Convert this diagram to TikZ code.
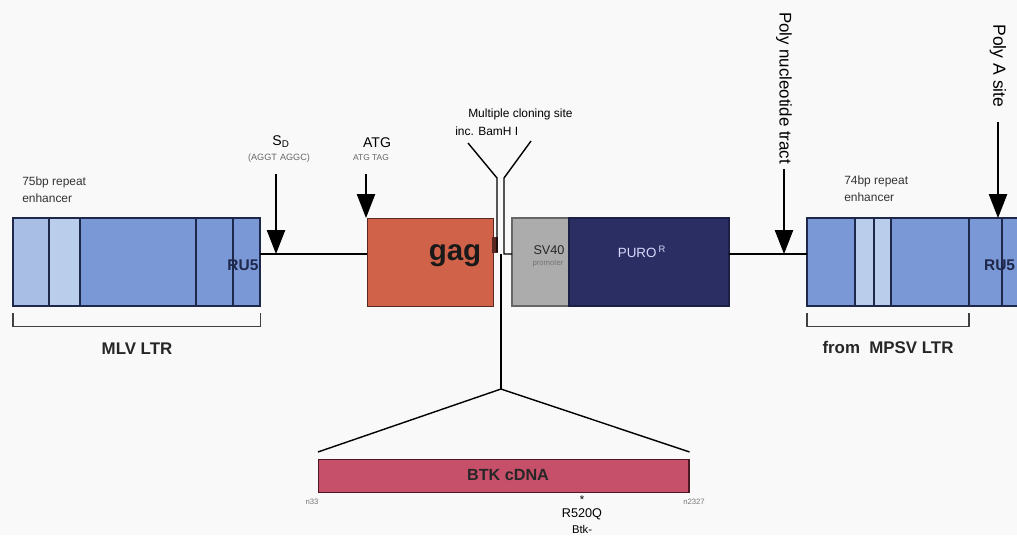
\documentclass[tikz,border=0pt]{standalone}
\usepackage{fontspec}
\setmainfont{Liberation Sans}
\definecolor{ltrblue}{RGB}{122,152,214}
\definecolor{ltrlight}{RGB}{168,190,228}
\definecolor{ltrpale}{RGB}{186,205,235}
\definecolor{ltrline}{RGB}{30,40,75}
\definecolor{gagred}{RGB}{208,98,74}
\definecolor{gagline}{RGB}{90,40,35}
\definecolor{svgray}{RGB}{172,172,172}
\definecolor{puronavy}{RGB}{42,46,98}
\definecolor{btkpink}{RGB}{198,80,106}
\definecolor{btkline}{RGB}{75,25,35}
\definecolor{smallgray}{RGB}{120,120,120}
\definecolor{paper}{RGB}{249,249,249}
\usetikzlibrary{arrows.meta,positioning}

\begin{document}
\begin{tikzpicture}[x=0.025cm,y=-0.025cm,
    seg/.style={anchor=north west,inner sep=0pt,outer sep=0pt,minimum height=2.2cm,
                draw=ltrline,line width=1.2pt},
    siteArrow/.style={-{Triangle[length=17pt,width=13pt]},line width=0.9pt},
    ltrbracket/.style={line width=0.8pt,draw=black!75},
    note/.style={font=\fontsize{8.5}{12}\selectfont,text=black!80,inner sep=0pt,align=left},
    smalltag/.style={font=\fontsize{5.5}{6}\selectfont,text=smallgray,inner sep=0pt},
    ltrname/.style={font=\fontsize{12}{12}\selectfont\bfseries,text=black!85}]
  \fill[paper] (0,0) rectangle (1017,535);
  \useasboundingbox (0,0) rectangle (1017,535);
  \clip (0,0) rectangle (1017,535);

  % MLV LTR
  \node[seg,fill=ltrlight,minimum width=0.9cm] (mlvA) at (13,218) {};
  \node[seg,fill=ltrpale,minimum width=0.775cm] (mlvB) at (mlvA.north east) {};
  \node[seg,fill=ltrblue,minimum width=2.9cm] (mlvC) at (mlvB.north east) {};
  \node[seg,fill=ltrblue,minimum width=0.925cm] (mlvD) at (mlvC.north east) {};
  \node[seg,fill=ltrblue,minimum width=0.675cm] (mlvE) at (mlvD.north east) {};
  \node[font=\fontsize{11}{11}\selectfont\bfseries,text=ltrline,anchor=east,inner sep=1pt]
    (mlvRU) at ([yshift=-2pt]mlvE.east) {RU5};
  \node[note,anchor=north west] (mlvenh) at (22,177) {75bp repeat\\enhancer};
  \draw[ltrbracket] ([yshift=-5pt]mlvA.south west) -- ++(0,13) -| ([yshift=-5pt]mlvE.south east);
  \node[ltrname] (mlvname) at (137,349) {MLV LTR};

  % gag, SV40 and PURO
  \node[anchor=north west,inner sep=0pt,minimum width=3.15cm,minimum height=2.2cm,
        fill=gagred,draw=gagline,line width=1pt] (gag) at (367,218) {};
  \node[font=\fontsize{21}{21}\selectfont\bfseries,text=black!90] (gagtxt) at (455,256) {gag};
  \fill[gagline] (492,237) rectangle (498,253);
  \node[anchor=north west,inner sep=0pt,outer sep=0pt,minimum width=1.425cm,minimum height=2.2cm,
        fill=svgray,draw=black!60,line width=1pt] (sv) at (512,218) {};
  \node[anchor=north west,inner sep=0pt,outer sep=0pt,minimum width=4cm,minimum height=2.2cm,
        fill=puronavy,draw=puronavy!70!black,line width=1pt] (puro) at (sv.north east) {};
  \node[font=\fontsize{9}{9}\selectfont,text=black!85] (svtxt) at (549,250) {SV40};
  \node[font=\fontsize{5.5}{6}\selectfont,text=black!55] (svprom) at (548,264) {promoter};
  \node[font=\fontsize{9.5}{9.5}\selectfont,text=white!85!blue] (purotxt) at (642,252)
    {PURO\,\textsuperscript{R}};

  % MPSV LTR
  \node[seg,fill=ltrblue,minimum width=1.2cm] (mpsvA) at (807,218) {};
  \node[seg,fill=ltrpale,minimum width=0.475cm] (mpsvB) at (mpsvA.north east) {};
  \node[seg,fill=ltrpale,minimum width=0.425cm] (mpsvC) at (mpsvB.north east) {};
  \node[seg,fill=ltrblue,minimum width=1.95cm] (mpsvD) at (mpsvC.north east) {};
  \node[seg,fill=ltrblue,minimum width=0.825cm] (mpsvE) at (mpsvD.north east) {};
  \node[seg,fill=ltrblue,minimum width=1cm] (mpsvF) at (mpsvE.north east) {};
  \node[font=\fontsize{11}{11}\selectfont\bfseries,text=ltrline,anchor=east,inner sep=0.5pt]
    (mpsvRU) at (1016,265) {RU5};
  \node[note,anchor=north west] (mpsvenh) at (844,176) {74bp repeat\\enhancer};
  \draw[ltrbracket] ([yshift=-5pt]mpsvA.south west) -- ++(0,13) -| ([yshift=-5pt]mpsvD.south east);
  \node[ltrname] (mpsvname) at (888,347) {from~~MPSV LTR};

  % sites above the backbone
  \coordinate (sdtop) at (276,174);
  \coordinate (sdtip) at (276,254);
  \coordinate (atgtop) at (366,174);
  \node[font=\fontsize{10}{10}\selectfont] (sdlab) at (281,142) {S\textsubscript{D}};
  \node[font=\fontsize{6.5}{7}\selectfont,text=black!60] (sdseq) at (279,158) {(AGGT\,\,AGGC)};
  \node[font=\fontsize{10}{10}\selectfont] (atglab) at (377,143) {ATG};
  \node[font=\fontsize{6}{7}\selectfont,text=black!60] (atgseq) at (371,158) {ATG TAG};
  \node[font=\fontsize{8.5}{9}\selectfont,anchor=west,inner sep=0pt] (mcslab) at (468,114) {Multiple cloning site};
  \node[font=\fontsize{8.5}{9}\selectfont,anchor=west,inner sep=0pt] (bamlab) at (455,131) {inc. BamH I};
  \node[rotate=-90,font=\fontsize{12}{12}\selectfont] (pnt) at (784,88) {Poly nucleotide tract};
  \node[rotate=-90,font=\fontsize{12.5}{12.5}\selectfont] (pas) at (998,66) {Poly A site};

  % backbone and arrows
  \draw[line width=1pt] (mlvE.east |- sdtip) -- (gag.west |- sdtip);
  \draw[line width=1pt] (puro.east |- sdtip) -- (mpsvA.west |- sdtip);
  \draw[siteArrow] (sdtop) -- (sdtip);
  \draw[siteArrow] (atgtop) -- (atgtop |- gag.north);
  \draw[siteArrow] (pnt.east) -- (pnt.east |- sdtip);
  \draw[siteArrow] (pas.east) ++(0,10) -- (pas.east |- mpsvA.north);

  % cloning site and insert
  \coordinate (mcsL) at (468,143);
  \coordinate (mcsR) at (531,141);
  \coordinate (mcsJ) at (501,254);
  \coordinate (split) at (501,389);
  \draw[line width=1pt] (mcsL) -- ++(29,35) -- ++(0,74);
  \draw[line width=1pt] (mcsR) -- ++(-27,37) |- (sv.west |- sdtip);
  \draw[line width=1pt] (mcsJ) -- (split);
  \node[anchor=north west,inner sep=0pt,minimum width=9.25cm,minimum height=0.825cm,
        fill=btkpink,draw=btkline,line width=1pt] (btk) at (318,459) {};
  \draw[line width=1pt] (split) -- ([yshift=5pt]btk.north west);
  \draw[line width=1pt] (split) -- ([yshift=5pt]btk.north east);
  \node[font=\fontsize{11.5}{11.5}\selectfont\bfseries,text=black!85] (btktxt) at (508,475) {BTK cDNA};
  \node[smalltag] (nstart) at (312,502) {n33};
  \node[smalltag] (nend) at (694,502) {n2327};
  \node[font=\fontsize{8}{8}\selectfont,inner sep=0pt] (mutstar) at (582,500) {*};
  \node[font=\fontsize{9}{9}\selectfont,inner sep=0pt] (mutname) at (582,514) {R520Q};
  \node[font=\fontsize{8}{8}\selectfont,inner sep=0pt] (mutbtk) at (582,529) {Btk-};
\end{tikzpicture}
\end{document}
